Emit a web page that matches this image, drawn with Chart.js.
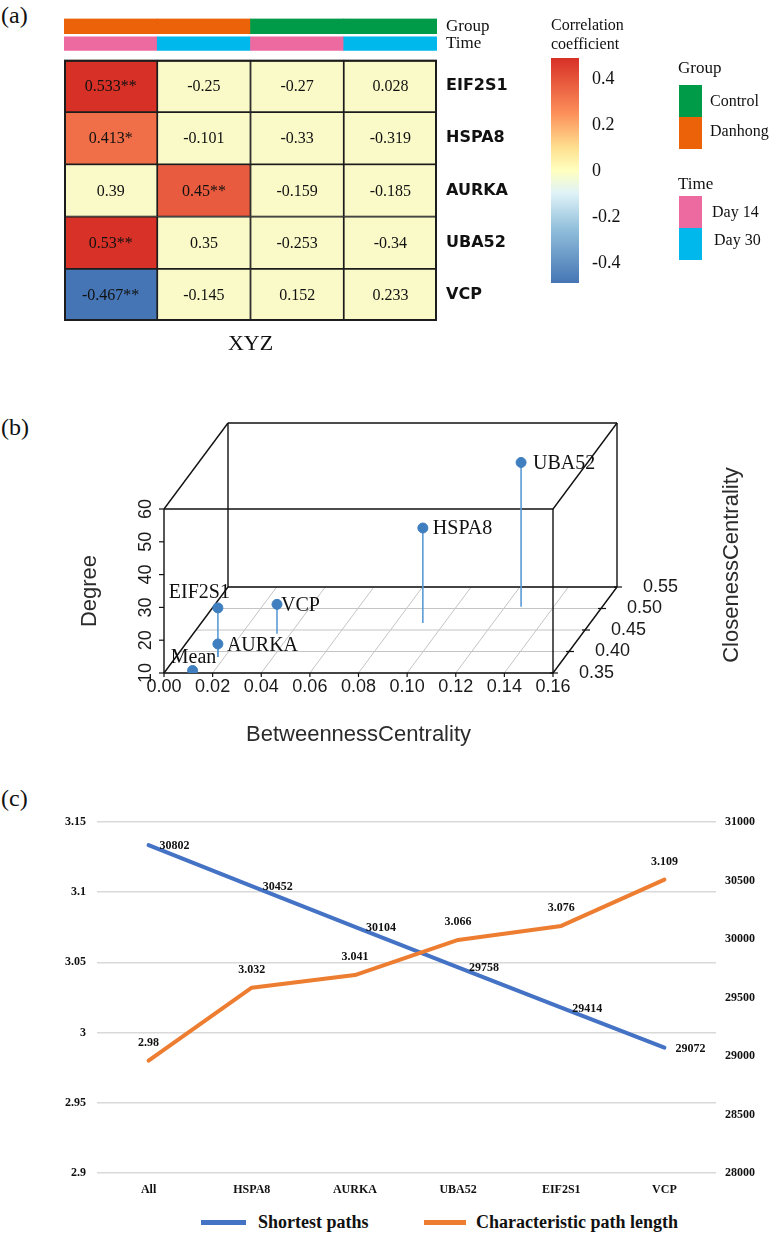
<!DOCTYPE html>
<html lang="en">
<head>
<meta charset="utf-8">
<title>Hub gene correlation and network centrality</title>
<script src="https://cdn.jsdelivr.net/npm/chart.js@4.4.1/dist/chart.umd.min.js"></script>
<style>
  html, body { margin: 0; padding: 0; background: #fff; }
  #page { position: relative; width: 771px; height: 1239px; overflow: hidden;
          font-family: "Liberation Serif", "Times New Roman", serif; color: #111; }
  #page canvas, .abs { position: absolute; }
  .panel-tag { font-size: 24px; line-height: 1; }
  .mid { transform: translateY(-50%); white-space: nowrap; line-height: 1; }
  .cb-title { left: 551px; top: 15px; font-size: 16px; line-height: 19px; }
  .cb-tick { left: 592px; font-size: 18px; }
  .leg-title { left: 678px; font-size: 17px; }
  .leg-text { font-size: 16px; }
  .swatch { left: 679px; width: 23px; height: 32px; }
  .line-key { height: 5px; }
  .line-text { font-size: 18px; font-weight: bold; }
</style>
</head>
<body>
<div id="page">
  <div class="abs panel-tag" style="left:1px; top:3px;">(a)</div>
  <div class="abs panel-tag" style="left:1px; top:415px;">(b)</div>
  <div class="abs panel-tag" style="left:1px; top:786px;">(c)</div>

  <canvas id="heat" width="771" height="365" style="left:0; top:0;"></canvas>

  <div class="abs cb-title">Correlation<br>coefficient</div>
  <div id="colorbar" class="abs" style="left:551px; top:58px; width:28px; height:225px;"></div>
  <div id="cb-ticks"></div>

  <div class="abs leg-title mid" style="top:67px;">Group</div>
  <div class="abs swatch" style="top:85px; background:#009b48;"></div>
  <div class="abs swatch" style="top:117px; background:#eb6209;"></div>
  <div class="abs leg-text mid" style="left:710px; top:101px;">Control</div>
  <div class="abs leg-text mid" style="left:710px; top:131px;">Danhong</div>
  <div class="abs leg-title mid" style="top:183px;">Time</div>
  <div class="abs swatch" style="top:196px; background:#ec6aa0;"></div>
  <div class="abs swatch" style="top:228px; background:#00b8ec;"></div>
  <div class="abs leg-text mid" style="left:712px; top:212px;">Day 14</div>
  <div class="abs leg-text mid" style="left:714px; top:240px;">Day 30</div>

  <canvas id="net3d" width="771" height="380" style="left:0; top:380px;"></canvas>

  <canvas id="paths" width="771" height="405" style="left:0; top:800px;"></canvas>
  <div class="abs line-key" style="left:201px; top:1220px; width:45px; background:#4472c4;"></div>
  <div class="abs line-text mid" style="left:258px; top:1222px;">Shortest paths</div>
  <div class="abs line-key" style="left:424px; top:1220px; width:42px; background:#ed7d31;"></div>
  <div class="abs line-text mid" style="left:476px; top:1222px;">Characteristic path length</div>
</div>

<script>
// ---------- (a) correlation heatmap ----------
const genes = ['EIF2S1', 'HSPA8', 'AURKA', 'UBA52', 'VCP'];
const samples = ['Danhong D14', 'Danhong D30', 'Control D14', 'Control D30'];
const sampleGroup = ['Danhong', 'Danhong', 'Control', 'Control'];
const sampleTime = ['Day 14', 'Day 30', 'Day 14', 'Day 30'];
const corrValues = [
    [0.533, -0.25, -0.27, 0.028],
    [0.413, -0.101, -0.33, -0.319],
    [0.39, 0.45, -0.159, -0.185],
    [0.53, 0.35, -0.253, -0.34],
    [-0.467, -0.145, 0.152, 0.233]
];
const corrStars = [
    ['**', '', '', ''],
    ['*', '', '', ''],
    ['', '**', '', ''],
    ['**', '', '', ''],
    ['**', '', '', '']
];
const colorbarTicks = [0.4, 0.2, 0, -0.2, -0.4];

// ---------- (b) 3D centrality scatter ----------
const nodeNames = ['Mean', 'EIF2S1', 'AURKA', 'VCP', 'HSPA8', 'UBA52'];
const betweenness = [0.0115, 0.0173, 0.0173, 0.0345, 0.0912, 0.1266];
const closeness = [0.352, 0.387, 0.387, 0.441, 0.466, 0.504];
const degree = [10.5, 25, 14, 19, 39, 54];
const betweenTicks = [0, 0.02, 0.04, 0.06, 0.08, 0.10, 0.12, 0.14, 0.16];
const closeTicks = [0.35, 0.40, 0.45, 0.50, 0.55];
const degreeTicks = [10, 20, 30, 40, 50, 60];

// ---------- (c) path lengths ----------
const pathNodes = ['All', 'HSPA8', 'AURKA', 'UBA52', 'EIF2S1', 'VCP'];
const shortestPaths = [30802, 30452, 30104, 29758, 29414, 29072];
const charPathLength = [2.98, 3.032, 3.041, 3.066, 3.076, 3.109];

const SERIF = '"Liberation Serif", "Times New Roman", serif';
const SANS = '"Liberation Sans", Arial, sans-serif';
Chart.defaults.font.family = SERIF;
Chart.defaults.color = '#111';

// ---- colours ----
const groupColors = { Control: '#009b48', Danhong: '#eb6209' };
const timeColors = { 'Day 14': '#ec6aa0', 'Day 30': '#00b8ec' };
const NS_COLOR = '#fafac8';
const POS_STOPS = ['#ffffbf', '#fee090', '#fc8d59', '#d73027'];
const NEG_STOPS = ['#ffffbf', '#e0f3f8', '#91bfdb', '#4575b4'];

function hexToRgb(h) {
    const n = parseInt(h.slice(1), 16);
    return [(n >> 16) & 255, (n >> 8) & 255, n & 255];
}
function rampColor(stops, t) {
    t = Math.max(0, Math.min(1, t));
    const seg = t * (stops.length - 1);
    const i = Math.min(Math.floor(seg), stops.length - 2);
    const a = hexToRgb(stops[i]), b = hexToRgb(stops[i + 1]), f = seg - i;
    const c = a.map((v, k) => Math.round(v + (b[k] - v) * f));
    return `rgb(${c[0]},${c[1]},${c[2]})`;
}
const allVals = corrValues.flat();
const posMax = Math.max(...allVals);
const negMax = -Math.min(...allVals);
function cellColor(v) {
    return v >= 0 ? rampColor(POS_STOPS, v / posMax) : rampColor(NEG_STOPS, -v / negMax);
}

// colour bar
document.getElementById('colorbar').style.background =
    'linear-gradient(to bottom, #d73027 0%, #fc8d59 24%, #fee090 40%, #ffffbf 50%, #e0f3f8 60%, #91bfdb 76%, #4575b4 100%)';
document.getElementById('cb-ticks').innerHTML = colorbarTicks
    .map(v => `<div class="abs cb-tick mid" style="top:${170 - v * 230}px;">${v}</div>`).join('');

// ====================================
// (a) heatmap drawn as floating bars
// ====================================
const GROUP_BAND = [-0.79, -0.50];
const TIME_BAND = [-0.44, -0.18];
const rowTicks = [-0.64, -0.31, 0.5, 1.5, 2.5, 3.5, 4.5];
const rowTickLabels = ['Group', 'Time', ...genes];

const heatDatasets = genes.map((g, r) => ({
    label: g,
    data: samples.map(() => [r, r + 1]),
    backgroundColor: corrValues[r].map((v, c) => corrStars[r][c] ? cellColor(v) : NS_COLOR),
    borderColor: '#1c1c1c',
    borderWidth: 1.2,
    borderSkipped: false
}));
heatDatasets.push({
    label: 'Group',
    data: samples.map(() => GROUP_BAND),
    backgroundColor: sampleGroup.map(g => groupColors[g]),
    borderWidth: 0
});
heatDatasets.push({
    label: 'Time',
    data: samples.map(() => TIME_BAND),
    backgroundColor: sampleTime.map(t => timeColors[t]),
    borderWidth: 0
});

const cellText = {
    id: 'cellText',
    afterDatasetsDraw(chart) {
        const ctx = chart.ctx;
        ctx.save();
        ctx.font = '16px ' + SERIF;
        ctx.fillStyle = '#111';
        ctx.textAlign = 'center';
        ctx.textBaseline = 'middle';
        genes.forEach((g, r) => {
            chart.getDatasetMeta(r).data.forEach((bar, c) => {
                ctx.fillText(String(corrValues[r][c]) + corrStars[r][c], bar.x, (bar.y + bar.base) / 2 + 1);
            });
        });
        // heavier outer frame round the grid
        const a = chart.chartArea, ys = chart.scales.y;
        ctx.strokeStyle = '#1c1c1c';
        ctx.lineWidth = 2;
        ctx.strokeRect(a.left + 1, ys.getPixelForValue(0) + 1, a.right - a.left - 2, ys.getPixelForValue(genes.length) - ys.getPixelForValue(0) - 2);
        ctx.restore();
    }
};

new Chart(document.getElementById('heat'), {
    type: 'bar',
    data: { labels: samples, datasets: heatDatasets },
    options: {
        responsive: false,
        animation: false,
        layout: { padding: { left: 64, top: 6, right: 234, bottom: 0 } },
        datasets: { bar: { grouped: false, barPercentage: 1, categoryPercentage: 1 } },
        plugins: { legend: { display: false }, tooltip: { enabled: false } },
        scales: {
            x: {
                grid: { display: false, drawTicks: false },
                border: { display: false },
                ticks: { display: false },
                title: { display: true, text: 'XYZ', font: { size: 22, family: SERIF }, color: '#111', padding: { top: 0, bottom: 8 } },
                afterFit: s => { s.height = 44; }
            },
            y: {
                type: 'linear',
                position: 'right',
                reverse: true,
                min: GROUP_BAND[0],
                max: genes.length,
                grid: { display: false, drawTicks: false },
                border: { display: false },
                afterBuildTicks: s => { s.ticks = rowTicks.map(v => ({ value: v })); },
                ticks: {
                    autoSkip: false,
                    padding: 9,
                    color: '#111',
                    callback: (v, i) => rowTickLabels[i],
                    font: ctx => (ctx.tick && ctx.tick.value < 0)
                        ? { family: SERIF, size: 17 }
                        : { family: '"DejaVu Sans", sans-serif', size: 16, weight: 'bold' }
                },
                afterFit: s => { s.width = 100; }
            }
        }
    },
    plugins: [cellText]
});

// ====================================
// (b) 3D scatter, oblique projection onto a 2D scatter
// ====================================
const B_MIN = 0, B_MAX = 0.16, C_MIN = 0.35, C_MAX = 0.55, D_MIN = 10, D_MAX = 60;
const DEPTH_X = (B_MAX - B_MIN) * 64 / 389;   // shift of back plane, in betweenness units
const DEPTH_Y = (D_MAX - D_MIN) * 86 / 164;   // lift of back plane, in degree units

function project(b, c, d) {
    const t = (c - C_MIN) / (C_MAX - C_MIN);
    return { x: b + t * DEPTH_X, y: d + t * DEPTH_Y };
}

const labelPlace = {
    Mean: ['center', 1, -13],
    EIF2S1: ['right', 12, -15],
    AURKA: ['left', 9, 2],
    VCP: ['left', 4, 1],
    HSPA8: ['left', 10, 1],
    UBA52: ['left', 12, 1]
};

const box3d = {
    id: 'box3d',
    beforeDatasetsDraw(chart) {
        const { ctx, scales: { x: xs, y: ys } } = chart;
        const P = (b, c, d) => { const p = project(b, c, d); return [xs.getPixelForValue(p.x), ys.getPixelForValue(p.y)]; };
        const seg = (a, b) => { ctx.beginPath(); ctx.moveTo(a[0], a[1]); ctx.lineTo(b[0], b[1]); ctx.stroke(); };
        ctx.save();
        // floor grid
        ctx.strokeStyle = '#c4c4c4';
        ctx.lineWidth = 1;
        closeTicks.forEach(c => seg(P(B_MIN, c, D_MIN), P(B_MAX, c, D_MIN)));
        betweenTicks.forEach(b => seg(P(b, C_MIN, D_MIN), P(b, C_MAX, D_MIN)));
        // box
        ctx.strokeStyle = '#111';
        ctx.lineWidth = 1.4;
        [C_MIN, C_MAX].forEach(c => {
            seg(P(B_MIN, c, D_MIN), P(B_MAX, c, D_MIN));
            seg(P(B_MAX, c, D_MIN), P(B_MAX, c, D_MAX));
            seg(P(B_MAX, c, D_MAX), P(B_MIN, c, D_MAX));
            seg(P(B_MIN, c, D_MAX), P(B_MIN, c, D_MIN));
        });
        [[B_MIN, D_MIN], [B_MAX, D_MIN], [B_MAX, D_MAX], [B_MIN, D_MAX]].forEach(([b, d]) =>
            seg(P(b, C_MIN, d), P(b, C_MAX, d)));
        // ticks
        ctx.lineWidth = 1.2;
        betweenTicks.forEach(b => { const p = P(b, C_MIN, D_MIN); seg(p, [p[0], p[1] + 4]); });
        degreeTicks.forEach(d => { const p = P(B_MIN, C_MIN, d); seg(p, [p[0] - 5, p[1]]); });
        closeTicks.forEach(c => { const p = P(B_MAX, c, D_MIN); seg([p[0] - 3, p[1]], [p[0] + 5, p[1]]); });

        // tick labels
        ctx.fillStyle = '#1a1a1a';
        ctx.font = '18px ' + SANS;
        ctx.textAlign = 'center';
        ctx.textBaseline = 'middle';
        betweenTicks.forEach(b => { const p = P(b, C_MIN, D_MIN); ctx.fillText(b.toFixed(2), p[0], p[1] + 14); });
        degreeTicks.forEach(d => {
            const p = P(B_MIN, C_MIN, d);
            ctx.save(); ctx.translate(p[0] - 18, p[1]); ctx.rotate(-Math.PI / 2); ctx.fillText(String(d), 0, 0); ctx.restore();
        });
        ctx.textAlign = 'left';
        closeTicks.forEach(c => { const p = P(B_MAX, c, D_MIN); ctx.fillText(c.toFixed(2), p[0] + 26, p[1]); });

        // axis titles
        ctx.fillStyle = '#2b2b2b';
        ctx.font = '22px ' + SANS;
        ctx.textAlign = 'center';
        const f0 = P(B_MIN, C_MIN, D_MIN), f1 = P(B_MAX, C_MIN, D_MIN), ft = P(B_MIN, C_MIN, D_MAX);
        ctx.fillText('BetweennessCentrality', (f0[0] + f1[0]) / 2, f0[1] + 62);
        ctx.save(); ctx.translate(f0[0] - 74, (f0[1] + ft[1]) / 2); ctx.rotate(-Math.PI / 2);
        ctx.fillText('Degree', 0, 0); ctx.restore();
        const b1 = P(B_MAX, C_MAX, D_MIN);
        ctx.save(); ctx.translate(b1[0] + 115, (f1[1] + b1[1]) / 2 - 65); ctx.rotate(-Math.PI / 2);
        ctx.fillText('ClosenessCentrality', 0, 0); ctx.restore();
        ctx.restore();
    },
    afterDatasetsDraw(chart) {
        const ctx = chart.ctx;
        const meta = chart.getDatasetMeta(0);
        ctx.save();
        ctx.font = '20px ' + SERIF;
        ctx.fillStyle = '#111';
        ctx.textBaseline = 'middle';
        meta.data.forEach((pt, i) => {
            const [align, dx, dy] = labelPlace[nodeNames[i]];
            ctx.textAlign = align;
            ctx.fillText(nodeNames[i], pt.x + dx, pt.y + dy);
        });
        ctx.restore();
    }
};

const stemDatasets = nodeNames.map((n, i) => ({
    type: 'line',
    label: n + ' stem',
    data: [project(betweenness[i], closeness[i], D_MIN), project(betweenness[i], closeness[i], degree[i])],
    borderColor: '#5b9bd5',
    borderWidth: 1.6,
    pointRadius: 0,
    showLine: true
}));

new Chart(document.getElementById('net3d'), {
    type: 'scatter',
    data: {
        datasets: [{
            label: 'Nodes',
            data: nodeNames.map((n, i) => project(betweenness[i], closeness[i], degree[i])),
            backgroundColor: '#3f7fbf',
            borderColor: '#3f7fbf',
            pointRadius: 5
        }, ...stemDatasets]
    },
    options: {
        responsive: false,
        animation: false,
        layout: { padding: { left: 164, right: 154, top: 43, bottom: 87 } },
        plugins: { legend: { display: false }, tooltip: { enabled: false } },
        scales: {
            x: { type: 'linear', display: false, min: B_MIN, max: B_MAX + DEPTH_X },
            y: { type: 'linear', display: false, min: D_MIN, max: D_MAX + DEPTH_Y }
        }
    },
    plugins: [box3d]
});

// ====================================
// (c) shortest paths / characteristic path length
// ====================================
const pathLabels = {
    id: 'pathLabels',
    afterDatasetsDraw(chart) {
        const ctx = chart.ctx;
        ctx.save();
        ctx.font = 'bold 12px ' + SERIF;
        ctx.fillStyle = '#111';
        ctx.textBaseline = 'middle';
        ctx.textAlign = 'left';
        chart.getDatasetMeta(0).data.forEach((pt, i) => ctx.fillText(String(shortestPaths[i]), pt.x + 11, pt.y + 1));
        ctx.textAlign = 'center';
        chart.getDatasetMeta(1).data.forEach((pt, i) => ctx.fillText(String(charPathLength[i]), pt.x, pt.y - 18));
        ctx.restore();
    }
};

const tickFont = { size: 12, weight: 'bold', family: SERIF };

new Chart(document.getElementById('paths'), {
    type: 'line',
    data: {
        labels: pathNodes,
        datasets: [{
            label: 'Shortest paths',
            data: shortestPaths,
            yAxisID: 'y2',
            borderColor: '#4472c4',
            borderWidth: 4,
            borderCapStyle: 'round',
            borderJoinStyle: 'round',
            pointRadius: 0,
            tension: 0,
            order: 2
        }, {
            label: 'Characteristic path length',
            data: charPathLength,
            yAxisID: 'y',
            borderColor: '#ed7d31',
            borderWidth: 4,
            borderCapStyle: 'round',
            borderJoinStyle: 'round',
            pointRadius: 0,
            tension: 0,
            order: 1
        }]
    },
    options: {
        responsive: false,
        animation: false,
        layout: { padding: { top: 22, left: 0, right: 0, bottom: 0 } },
        plugins: { legend: { display: false }, tooltip: { enabled: false } },
        scales: {
            x: {
                offset: true,
                grid: { display: false, drawTicks: false },
                border: { display: false },
                ticks: { padding: 10, font: tickFont, color: '#111' },
                afterFit: s => { s.height = 32; }
            },
            y: {
                position: 'left',
                min: 2.9,
                max: 3.15,
                grid: { color: '#d9d9d9', lineWidth: 1.5, drawTicks: false },
                border: { display: false },
                ticks: { stepSize: 0.05, padding: 11, font: tickFont, color: '#111', callback: v => String(+v.toFixed(2)) },
                afterFit: s => { s.width = 97; }
            },
            y2: {
                position: 'right',
                min: 28000,
                max: 31000,
                grid: { display: false, drawTicks: false },
                border: { display: false },
                ticks: { stepSize: 500, padding: 9, font: tickFont, color: '#111', callback: v => String(v) },
                afterFit: s => { s.width = 55; }
            }
        }
    },
    plugins: [pathLabels]
});
</script>
</body>
</html>
